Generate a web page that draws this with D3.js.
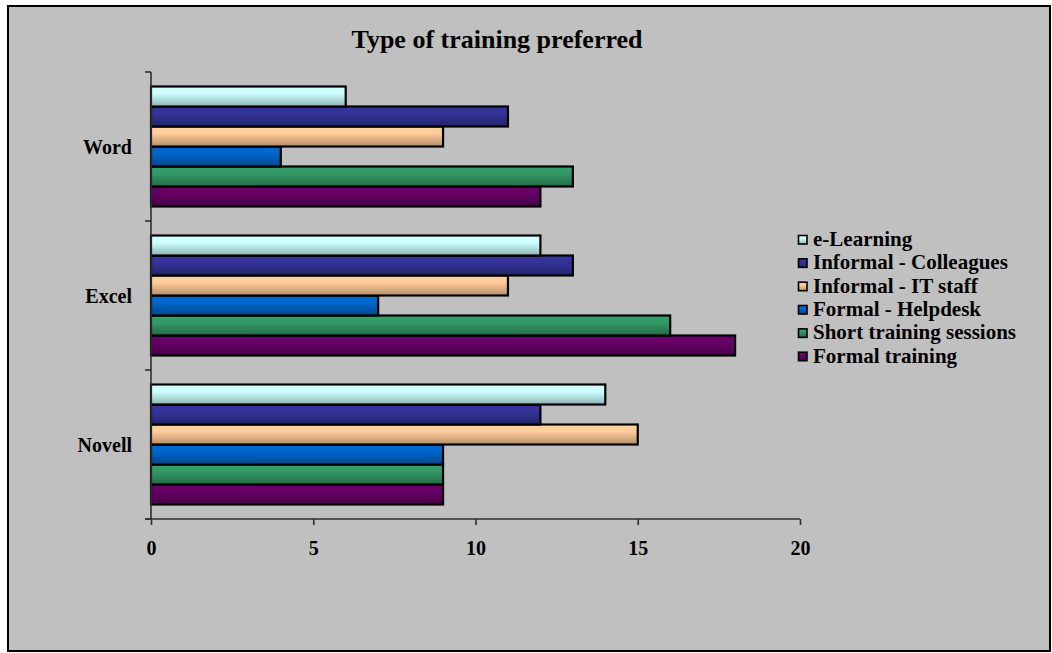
<!DOCTYPE html>
<html>
<head>
<meta charset="utf-8">
<script src="https://cdn.jsdelivr.net/npm/d3@7"></script>
<style>
  html, body { margin: 0; padding: 0; background: #ffffff; }
  svg { display: block; }
  text { font-family: "Liberation Serif", "Times New Roman", serif; font-weight: bold; fill: #000; }
</style>
</head>
<body>
<script>
// ---- data ----
const categories = ["Word", "Excel", "Novell"];
const seriesNames = ["Formal training", "Short training sessions", "Formal - Helpdesk",
                     "Informal - IT staff", "Informal - Colleagues", "e-Learning"];
const formalTraining     = [12, 18, 9];
const shortSessions      = [13, 16, 9];
const formalHelpdesk     = [4, 7, 9];
const informalITStaff    = [9, 11, 15];
const informalColleagues = [11, 13, 12];
const eLearning          = [6, 12, 14];
const xTicks = [0, 5, 10, 15, 20];
const chartTitle = "Type of training preferred";

const seriesValues = [formalTraining, shortSessions, formalHelpdesk, informalITStaff, informalColleagues, eLearning];
const seriesColors = ["#660066", "#339966", "#0066cc", "#ffcc99", "#333399", "#ccffff"];

const W = 1052, H = 653;
const svg = d3.select("body").append("svg").attr("width", W).attr("height", H);

// gradients
const defs = svg.append("defs");
seriesColors.forEach((c, i) => {
  const g = defs.append("linearGradient").attr("id", "grad" + i)
    .attr("x1", 0).attr("y1", 0).attr("x2", 0).attr("y2", 1);
  g.append("stop").attr("offset", "0%").attr("stop-color", d3.color(c).brighter(0.1));
  g.append("stop").attr("offset", "35%").attr("stop-color", c);
  g.append("stop").attr("offset", "100%").attr("stop-color", d3.color(c).darker(1.0));
});

// chart area
svg.append("rect").attr("x", 8).attr("y", 6).attr("width", 1042).attr("height", 645)
  .attr("fill", "#c0c0c0").attr("stroke", "#000").attr("stroke-width", 2);

// title
svg.append("text").attr("x", 497).attr("y", 48).attr("text-anchor", "middle")
  .style("font-size", "26px").text(chartTitle);

// scales
const x = d3.scaleLinear().domain([0, 20]).range([151, 800]);
const y = d3.scaleBand().domain(categories).range([72, 519])
  .paddingInner(29 / 149).paddingOuter(14.5 / 149);
const stackOrder = seriesNames.slice().reverse(); // e-Learning on top
const yInner = d3.scaleBand().domain(stackOrder).range([0, y.bandwidth()]);

// bars
const groups = svg.append("g").selectAll("g").data(categories).join("g")
  .attr("transform", d => `translate(0,${y(d)})`);
groups.each(function(cat, ci) {
  d3.select(this).selectAll("rect")
    .data(seriesNames.map((s, si) => ({ s, si, v: seriesValues[si][ci] })))
    .join("rect")
    .attr("x", x(0))
    .attr("y", d => yInner(d.s))
    .attr("width", d => x(d.v) - x(0))
    .attr("height", yInner.bandwidth())
    .attr("fill", d => `url(#grad${d.si})`)
    .attr("stroke", "#000").attr("stroke-width", 2.2);
});

// x axis
const xAxis = svg.append("g").attr("transform", "translate(0,519)")
  .call(d3.axisBottom(x).tickValues(xTicks).tickSize(6).tickPadding(16).tickFormat(d3.format("d")));
xAxis.select(".domain").attr("stroke", "#303030").attr("stroke-width", 1.6).attr("d", "M145,0H800");
xAxis.selectAll(".tick line").attr("stroke", "#303030").attr("stroke-width", 1.6);
xAxis.selectAll("text").style("font-size", "20px").attr("font-family", null);

// y axis
const stepY = y.step();
const boundaries = [72, 72 + stepY, 72 + 2 * stepY, 519];
const yAxisG = svg.append("g");
yAxisG.append("line").attr("x1", 151).attr("x2", 151).attr("y1", 72).attr("y2", 519)
  .attr("stroke", "#303030").attr("stroke-width", 1.6);
yAxisG.selectAll(".yt").data(boundaries).join("line").attr("class", "yt")
  .attr("x1", 145).attr("x2", 151).attr("y1", d => d).attr("y2", d => d)
  .attr("stroke", "#303030").attr("stroke-width", 1.6);
yAxisG.selectAll(".yl").data(categories).join("text").attr("class", "yl")
  .attr("x", 132).attr("y", d => y(d) + y.bandwidth() / 2 + 7)
  .attr("text-anchor", "end").style("font-size", "20px").text(d => d);

// legend
const legend = svg.append("g");
const legendOrder = seriesNames.map((s, i) => ({ s, i })).reverse();
const ly = d3.scalePoint().domain(legendOrder.map(d => d.s)).range([246, 362.7]);
const li = legend.selectAll("g").data(legendOrder).join("g")
  .attr("transform", d => `translate(0,${ly(d.s)})`);
li.append("rect").attr("x", 798.5).attr("y", -10.5).attr("width", 8.5).attr("height", 8.5)
  .attr("fill", d => `url(#grad${d.i})`).attr("stroke", "#000").attr("stroke-width", 1.6);
li.append("text").attr("x", 813).attr("y", 0).style("font-size", "21px").text(d => d.s);
</script>
</body>
</html>
